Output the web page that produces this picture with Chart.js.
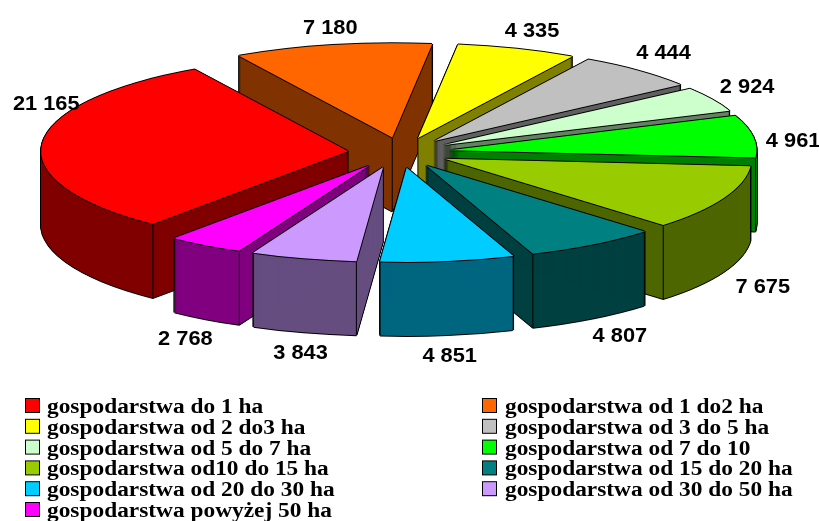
<!DOCTYPE html>
<html><head><meta charset="utf-8">
<style>html,body{margin:0;padding:0;background:#fff}canvas{display:block}</style>
<script src="https://cdn.jsdelivr.net/npm/chart.js@4/dist/chart.umd.min.js"></script>
</head><body><canvas id="c" width="819" height="521"></canvas>
<script>
const categories=["gospodarstwa do 1 ha","gospodarstwa od 1 do2 ha","gospodarstwa od 2 do3 ha","gospodarstwa od 3 do 5 ha","gospodarstwa od 5 do 7 ha","gospodarstwa od 7 do 10","gospodarstwa od10 do 15 ha","gospodarstwa od 15 do 20 ha","gospodarstwa od 20 do 30 ha","gospodarstwa od 30 do 50 ha","gospodarstwa powyżej 50 ha"];
const values=[21165,7180,4335,4444,2924,4961,7675,4807,4851,3843,2768];
const tops=["#FF0000","#FF6600","#FFFF00","#C0C0C0","#CCFFCC","#00FF00","#99CC00","#008080","#00CCFF","#CC99FF","#FF00FF"];
const sides=["#800000","#803300","#808000","#606060","#668066","#008000","#4D6600","#004040","#006680","#664D80","#800080"];
const explode=[50,50,50,50,50,50,50,50,50,50,50];
const driftX=[-1,3,3,2,1,1,0,0,1,-3,-3];
const labelShift=[[3,-39],[1,-17],[18,-17],[27,-17],[36,-12],[41,5],[39,89],[27,92],[3,95],[-6,95],[-23,94]];
const RADIUS=307, SQUASH=0.307, DEPTH=74;

const fmt=v=>String(v).replace(/\B(?=(\d{3})+$)/g," ");
function paint(ctx,el,color,cx,cy,dx,dy,ex,ey){
  const o=el.options; el.options=Object.assign({},o,{backgroundColor:color,borderWidth:0,offset:0});
  ctx.save();
  ctx.translate(cx+dx,cy+dy);ctx.scale(1,SQUASH);ctx.translate(-cx+ex,-cy+ey);
  el.draw(ctx);ctx.restore();el.options=o;
}
const pie3d={id:'pie3d',
  beforeDatasetsDraw(chart){
    const ctx=chart.ctx, arcs=chart.getDatasetMeta(0).data;
    const order=arcs.map((el,i)=>i).sort((a,b)=>Math.sin((arcs[a].startAngle+arcs[a].endAngle)/2)-Math.sin((arcs[b].startAngle+arcs[b].endAngle)/2));
    for(const i of order){
      const el=arcs[i],cx=el.x,cy=el.y,m=(el.startAngle+el.endAngle)/2;
      const ex=Math.cos(m)*explode[i]+driftX[i],ey=Math.sin(m)*explode[i];
      const p=(a,r)=>[cx+ex+Math.cos(a)*r,cy+(ey+Math.sin(a)*r)*SQUASH];
      for(let d=0;d<=DEPTH;d++){paint(ctx,el,'#000',cx,cy,-1,d,ex,ey);paint(ctx,el,'#000',cx,cy,1,d,ex,ey);}
      paint(ctx,el,'#000',cx,cy,0,DEPTH+1,ex,ey);
      for(let d=0;d<=DEPTH;d++)paint(ctx,el,sides[i],cx,cy,0,d,ex,ey);
      ctx.strokeStyle='#000';ctx.lineWidth=1;
      const a0=el.startAngle,a1=el.endAngle,edges=[];
      if(Math.sin(a0)>0||Math.cos(a0)<0)edges.push(p(a0,el.outerRadius));
      if(Math.sin(a1)>0||Math.cos(a1)>0)edges.push(p(a1,el.outerRadius));
      if(Math.cos(a0)<0&&Math.cos(a1)>0)edges.push(p(0,0));
      for(const q of edges){
        ctx.beginPath();ctx.moveTo(q[0],q[1]);ctx.lineTo(q[0],q[1]+DEPTH);ctx.stroke();
      }
      for(const s of [[-1,0],[1,0],[0,-1],[0,1]])paint(ctx,el,'#000',cx,cy,s[0],s[1],ex,ey);
      paint(ctx,el,tops[i],cx,cy,0,0,ex,ey);
    }
    ctx.save();ctx.fillStyle='#000';ctx.font='bold 20px "Liberation Sans"';ctx.textAlign='center';ctx.textBaseline='middle';
    arcs.forEach((el,i)=>{
      const m=(el.startAngle+el.endAngle)/2,R=el.outerRadius+explode[i];
      ctx.save();
      ctx.translate(el.x+Math.cos(m)*R+labelShift[i][0],el.y+Math.sin(m)*R*SQUASH+labelShift[i][1]);
      ctx.scale(1.09,1);
      ctx.fillText(fmt(values[i]),0,0);
      ctx.restore();
    });
    ctx.restore();
    // legend
    ctx.save();ctx.textAlign='left';ctx.textBaseline='alphabetic';ctx.font='bold 20.5px "Liberation Serif"';
    categories.forEach((t,i)=>{
      const col=i%2,row=(i-col)/2,bx=col?483:26,by=399+row*20.8,tx=col?505:47;
      ctx.fillStyle='#000';ctx.fillRect(bx-1,by-1,15,15);
      ctx.fillStyle=tops[i];ctx.fillRect(bx,by,13,13);
      ctx.fillStyle='#000';
      ctx.save();ctx.translate(tx,by+14);ctx.scale(1.14,1);ctx.fillText(t,0,0);ctx.restore();
    });
    ctx.restore();
    return false;
  }};
new Chart(document.getElementById('c'),{type:'pie',plugins:[pie3d],
  data:{labels:categories,datasets:[{data:values,backgroundColor:tops,borderWidth:0,radius:RADIUS}]},
  options:{responsive:false,animation:false,rotation:219.5,layout:{padding:{left:0,right:21,top:0,bottom:216}},
    plugins:{legend:{display:false},tooltip:{enabled:false}}}});
</script></body></html>
